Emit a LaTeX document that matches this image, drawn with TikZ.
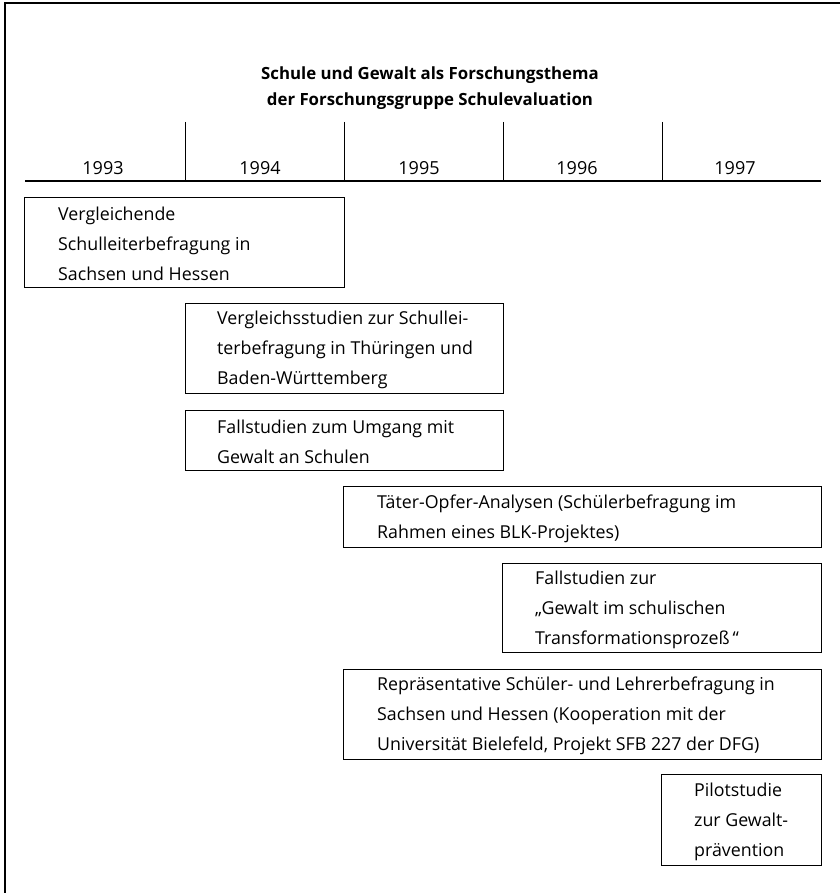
\documentclass[tikz,border=0pt]{standalone}
\usepackage{fontspec}
\setmainfont{Open Sans}
\begin{document}
\begin{tikzpicture}[x=1pt,y=-1pt,
  frame/.style={line width=2pt},
  axisline/.style={line width=1.6pt},
  divider/.style={line width=1pt},
  box/.style={draw, line width=1.3pt, rectangle, inner sep=0pt},
  boxtext/.style={anchor=west, align=left, inner sep=0pt, font=\fontsize{17.8}{30}\selectfont},
  year/.style={anchor=base, inner sep=0pt, font=\fontsize{18}{20}\selectfont},
  titletext/.style={align=center, inner sep=0pt, font=\fontsize{16.8}{26}\selectfont\bfseries}]
\useasboundingbox (0,0) rectangle (839,893);
% outer frame (cropped)
\draw[frame] (5,895) -- (5,3) -- (841,3);
% title
\node[titletext] (title) at (430,88) {Schule und Gewalt als Forschungsthema\\der Forschungsgruppe Schulevaluation};
% axis
\coordinate (axL) at (25,181);
\coordinate (axR) at (821,181);
\draw[axisline] (axL) -- (axR);
\foreach \x/\n in {185/d1,344/d2,503/d3,662/d4}{
  \coordinate (\n top) at (\x,122);
  \coordinate (\n bot) at (\x,181);
  \draw[divider] (\n top) -- (\n bot);
}
\node[year] (y93) at (103,175) {1993};
\node[year] (y94) at (260,175) {1994};
\node[year] (y95) at (419,175) {1995};
\node[year] (y96) at (577,175) {1996};
\node[year] (y97) at (735,175) {1997};
% boxes
\node[box, anchor=north west, minimum width=320, minimum height=90] (b1) at (24,197) {};
\node[boxtext] (t1) at ([xshift=34,yshift=-1.5]b1.west) {Vergleichende\\Schulleiterbefragung in\\Sachsen und Hessen};
\node[box, anchor=north west, minimum width=318, minimum height=90] (b2) at (185,303) {};
\node[boxtext] (t2) at ([xshift=32,yshift=-1.5]b2.west) {Vergleichsstudien zur Schullei-\\terbefragung in Thüringen und\\Baden-Württemberg};
\node[box, anchor=north west, minimum width=318, minimum height=60] (b3) at (185,410) {};
\node[boxtext] (t3) at ([xshift=32,yshift=-1.5]b3.west) {Fallstudien zum Umgang mit\\Gewalt an Schulen};
\node[box, anchor=north west, minimum width=478, minimum height=61] (b4) at (343,486) {};
\node[boxtext] (t4) at ([xshift=34,yshift=-1.5]b4.west) {Täter-Opfer-Analysen (Schülerbefragung im\\Rahmen eines BLK-Projektes)};
\node[box, anchor=north west, minimum width=319, minimum height=89] (b5) at (502,563) {};
\node[boxtext] (t5) at ([xshift=33,yshift=-1.5]b5.west) {Fallstudien zur\\„Gewalt im schulischen\\Transformationsprozeß\,“};
\node[box, anchor=north west, minimum width=478, minimum height=90] (b6) at (343,669) {};
\node[boxtext] (t6) at ([xshift=34,yshift=-1.5]b6.west) {Repräsentative Schüler- und Lehrerbefragung in\\Sachsen und Hessen (Kooperation mit der\\Universität Bielefeld, Projekt SFB 227 der DFG)};
\node[box, anchor=north west, minimum width=160, minimum height=91] (b7) at (661,774) {};
\node[boxtext] (t7) at ([xshift=33,yshift=-1.5]b7.west) {Pilotstudie\\zur Gewalt-\\prävention};
\end{tikzpicture}
\end{document}
